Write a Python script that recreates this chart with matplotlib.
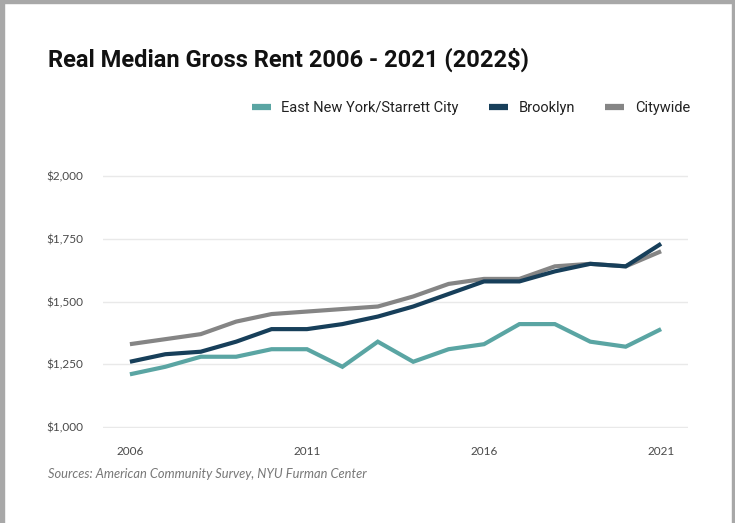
import matplotlib
matplotlib.use("Agg")
import matplotlib.pyplot as plt
from matplotlib.patches import Rectangle
from matplotlib.lines import Line2D
from matplotlib.ticker import FuncFormatter

years = list(range(2006, 2022))
east_new_york = [1210, 1240, 1280, 1280, 1310, 1310, 1240, 1340,
                 1260, 1310, 1330, 1410, 1410, 1340, 1320, 1390]
brooklyn = [1260, 1290, 1300, 1340, 1390, 1390, 1410, 1440,
            1480, 1530, 1580, 1580, 1620, 1650, 1640, 1730]
citywide = [1330, 1350, 1370, 1420, 1450, 1460, 1470, 1480,
            1520, 1570, 1590, 1590, 1640, 1650, 1640, 1700]
series_names = ["East New York/Starrett City", "Brooklyn", "Citywide"]
x_ticks = [2006, 2011, 2016, 2021]
y_ticks = [1000, 1250, 1500, 1750, 2000]

colors = ["#5aa5a3", "#173f5a", "#858585"]
W, H = 735, 523

fig = plt.figure(figsize=(W / 100, H / 100), dpi=100)
fig.patch.set_facecolor("white")

# page border (shadow on left/top/right)
gray = "#a8a8a8"
fig.patches.append(Rectangle((0, 0), 4 / W, 1, transform=fig.transFigure, color=gray, zorder=0))
fig.patches.append(Rectangle((0, 1 - 3 / H), 1, 3 / H, transform=fig.transFigure, color=gray, zorder=0))
fig.patches.append(Rectangle((1 - 3 / W, 0), 3 / W, 1, transform=fig.transFigure, color=gray, zorder=0))

ax = fig.add_axes([103 / W, 1 - 428.3 / H, 585 / W, 253.6 / H])
for s in ax.spines.values():
    s.set_visible(False)

# gray first, then teal, brooklyn on top
data = [east_new_york, brooklyn, citywide]
for i, z in zip([2, 0, 1], [3, 4, 5]):
    ax.plot(years, data[i], color=colors[i], lw=3.0, solid_capstyle="butt",
            solid_joinstyle="miter", zorder=z)

ax.set_xlim(2005.24, 2021.76)
ax.set_ylim(995, 2005)
ax.set_xticks(x_ticks)
ax.set_yticks(y_ticks)
ax.yaxis.set_major_formatter(FuncFormatter(lambda v, p: "${:,.0f}".format(v)))
ax.grid(axis="y", color="#e9e9e9", lw=1)
ax.set_axisbelow(True)
ax.tick_params(length=0, labelsize=8.5, labelcolor="#4a4a4a", pad=14)
ax.tick_params(axis="x", pad=13)
for lab in ax.get_xticklabels() + ax.get_yticklabels():
    lab.set_family(["Lato", "DejaVu Sans"])

fig.text(48 / W, 1 - 60 / H, "Real Median Gross Rent 2006 - 2021 (2022$)",
         fontsize=17, fontweight="bold", color="#111111", va="center",
         family=["Roboto", "DejaVu Sans"])

handles = [Line2D([], [], color=colors[i], lw=4.5, solid_capstyle="butt") for i in range(3)]
fig.legend(handles, series_names, loc="center right", bbox_to_anchor=(703 / W, 1 - 108 / H),
           ncol=3, frameon=False, handlelength=1.3, handletextpad=0.7, columnspacing=2.1,
           prop={"family": ["Roboto", "DejaVu Sans"], "size": 10.5}, labelcolor="#222222")

fig.text(48 / W, 1 - 474 / H, "Sources: American Community Survey, NYU Furman Center",
         fontsize=9.3, style="italic", color="#777777", va="center",
         family=["Lato", "DejaVu Sans"])

fig.savefig("out.png", dpi=100, facecolor="white")
